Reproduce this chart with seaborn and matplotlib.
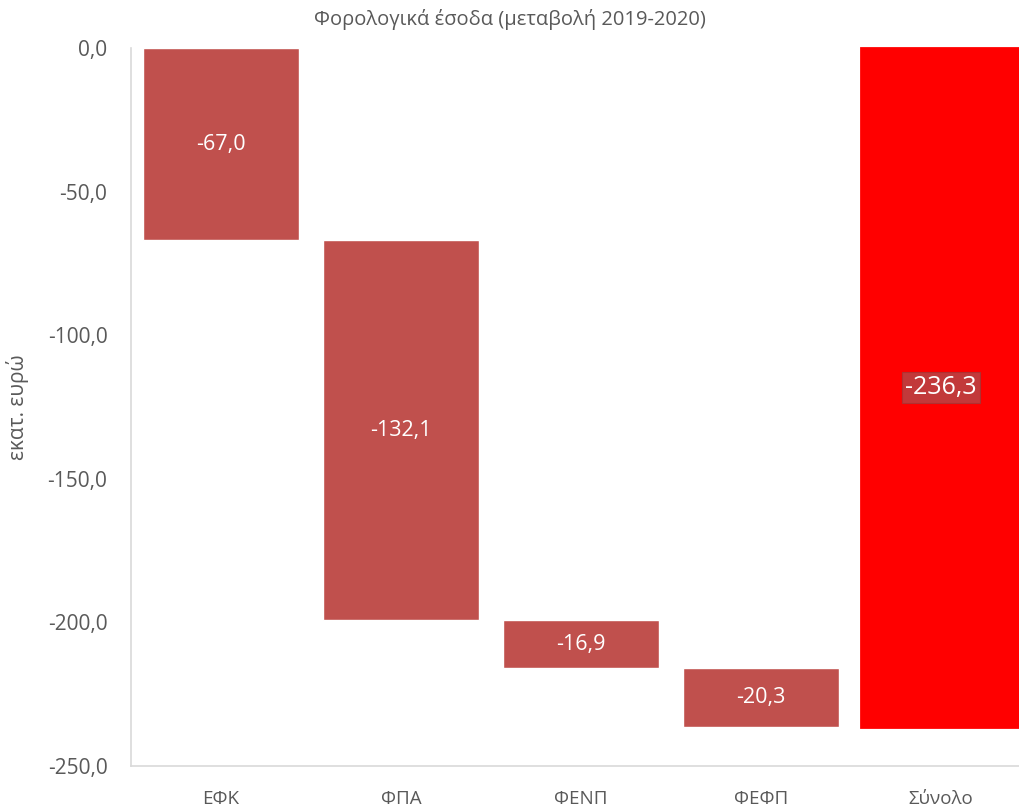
import matplotlib
matplotlib.use("Agg")
import matplotlib.pyplot as plt
import seaborn as sns
import numpy as np
import pandas as pd

# data
categories = ["ΕΦΚ", "ΦΠΑ", "ΦΕΝΠ", "ΦΕΦΠ", "Σύνολο"]
changes = [-67.0, -132.1, -16.9, -20.3]
total = -236.3
y_ticks = [0, -50, -100, -150, -200, -250]

bar_color = "#C0504D"
total_color = "#FF0000"
text_gray = "#595959"


def fmt(v):
    return f"{v:.1f}".replace(".", ",")


sns.set_theme(style="white")
plt.rcParams["font.family"] = ["Open Sans", "DejaVu Sans"]

# waterfall: each step starts where the previous one ended
ends = np.cumsum(changes)
starts = np.concatenate([[0.0], ends[:-1]])
steps = pd.DataFrame({"cat": categories[:-1], "value": changes})
tot = pd.DataFrame({"cat": [categories[-1]], "value": [total]})

fig = plt.figure(figsize=(10.2, 8.1), dpi=100)
ax = fig.add_axes([131 / 1020, 44 / 810, 889 / 1020, 718 / 810])

sns.barplot(data=steps, x="cat", y="value", order=categories, bottom=starts,
            color=bar_color, saturation=1, width=0.867, ax=ax)
sns.barplot(data=tot, x="cat", y="value", order=categories,
            color=total_color, saturation=1, width=0.89, ax=ax,
            edgecolor=total_color, linewidth=2, clip_on=False)

# labels in the middle of each bar
for i, (s, v) in enumerate(zip(starts, changes)):
    ax.text(i, s + v / 2, fmt(v), ha="center", va="center",
            color="white", fontsize=15.5)
ax.text(4, total / 2, fmt(total), ha="center", va="center", color="white",
        fontsize=18,
        bbox=dict(boxstyle="square,pad=0.12", facecolor="#C2393A",
                  edgecolor="#B03030", linewidth=0.8))

ax.set_xlim(-0.5, 4.44)
ax.set_ylim(-250, 0)
ax.set_yticks(y_ticks)
ax.set_yticklabels([fmt(t) for t in y_ticks])
ax.tick_params(axis="y", length=0, pad=17, labelsize=15, labelcolor=text_gray)
ax.tick_params(axis="x", length=0, pad=17, labelsize=13.5, labelcolor=text_gray)
ax.set_xlabel("")
ax.set_ylabel("εκατ. ευρώ", fontsize=15, color=text_gray)
ax.yaxis.set_label_coords(-(131 - 29) / 889, 0.5)

sns.despine(ax=ax, top=True, right=True)
for side in ["left", "bottom"]:
    ax.spines[side].set_color("#D9D9D9")
    ax.spines[side].set_linewidth(1.2)

fig.text(0.5, 1 - 20 / 810, "Φορολογικά έσοδα (μεταβολή 2019-2020)",
         ha="center", va="center", fontsize=14.5, color=text_gray)

fig.savefig("out.png", dpi=100)
